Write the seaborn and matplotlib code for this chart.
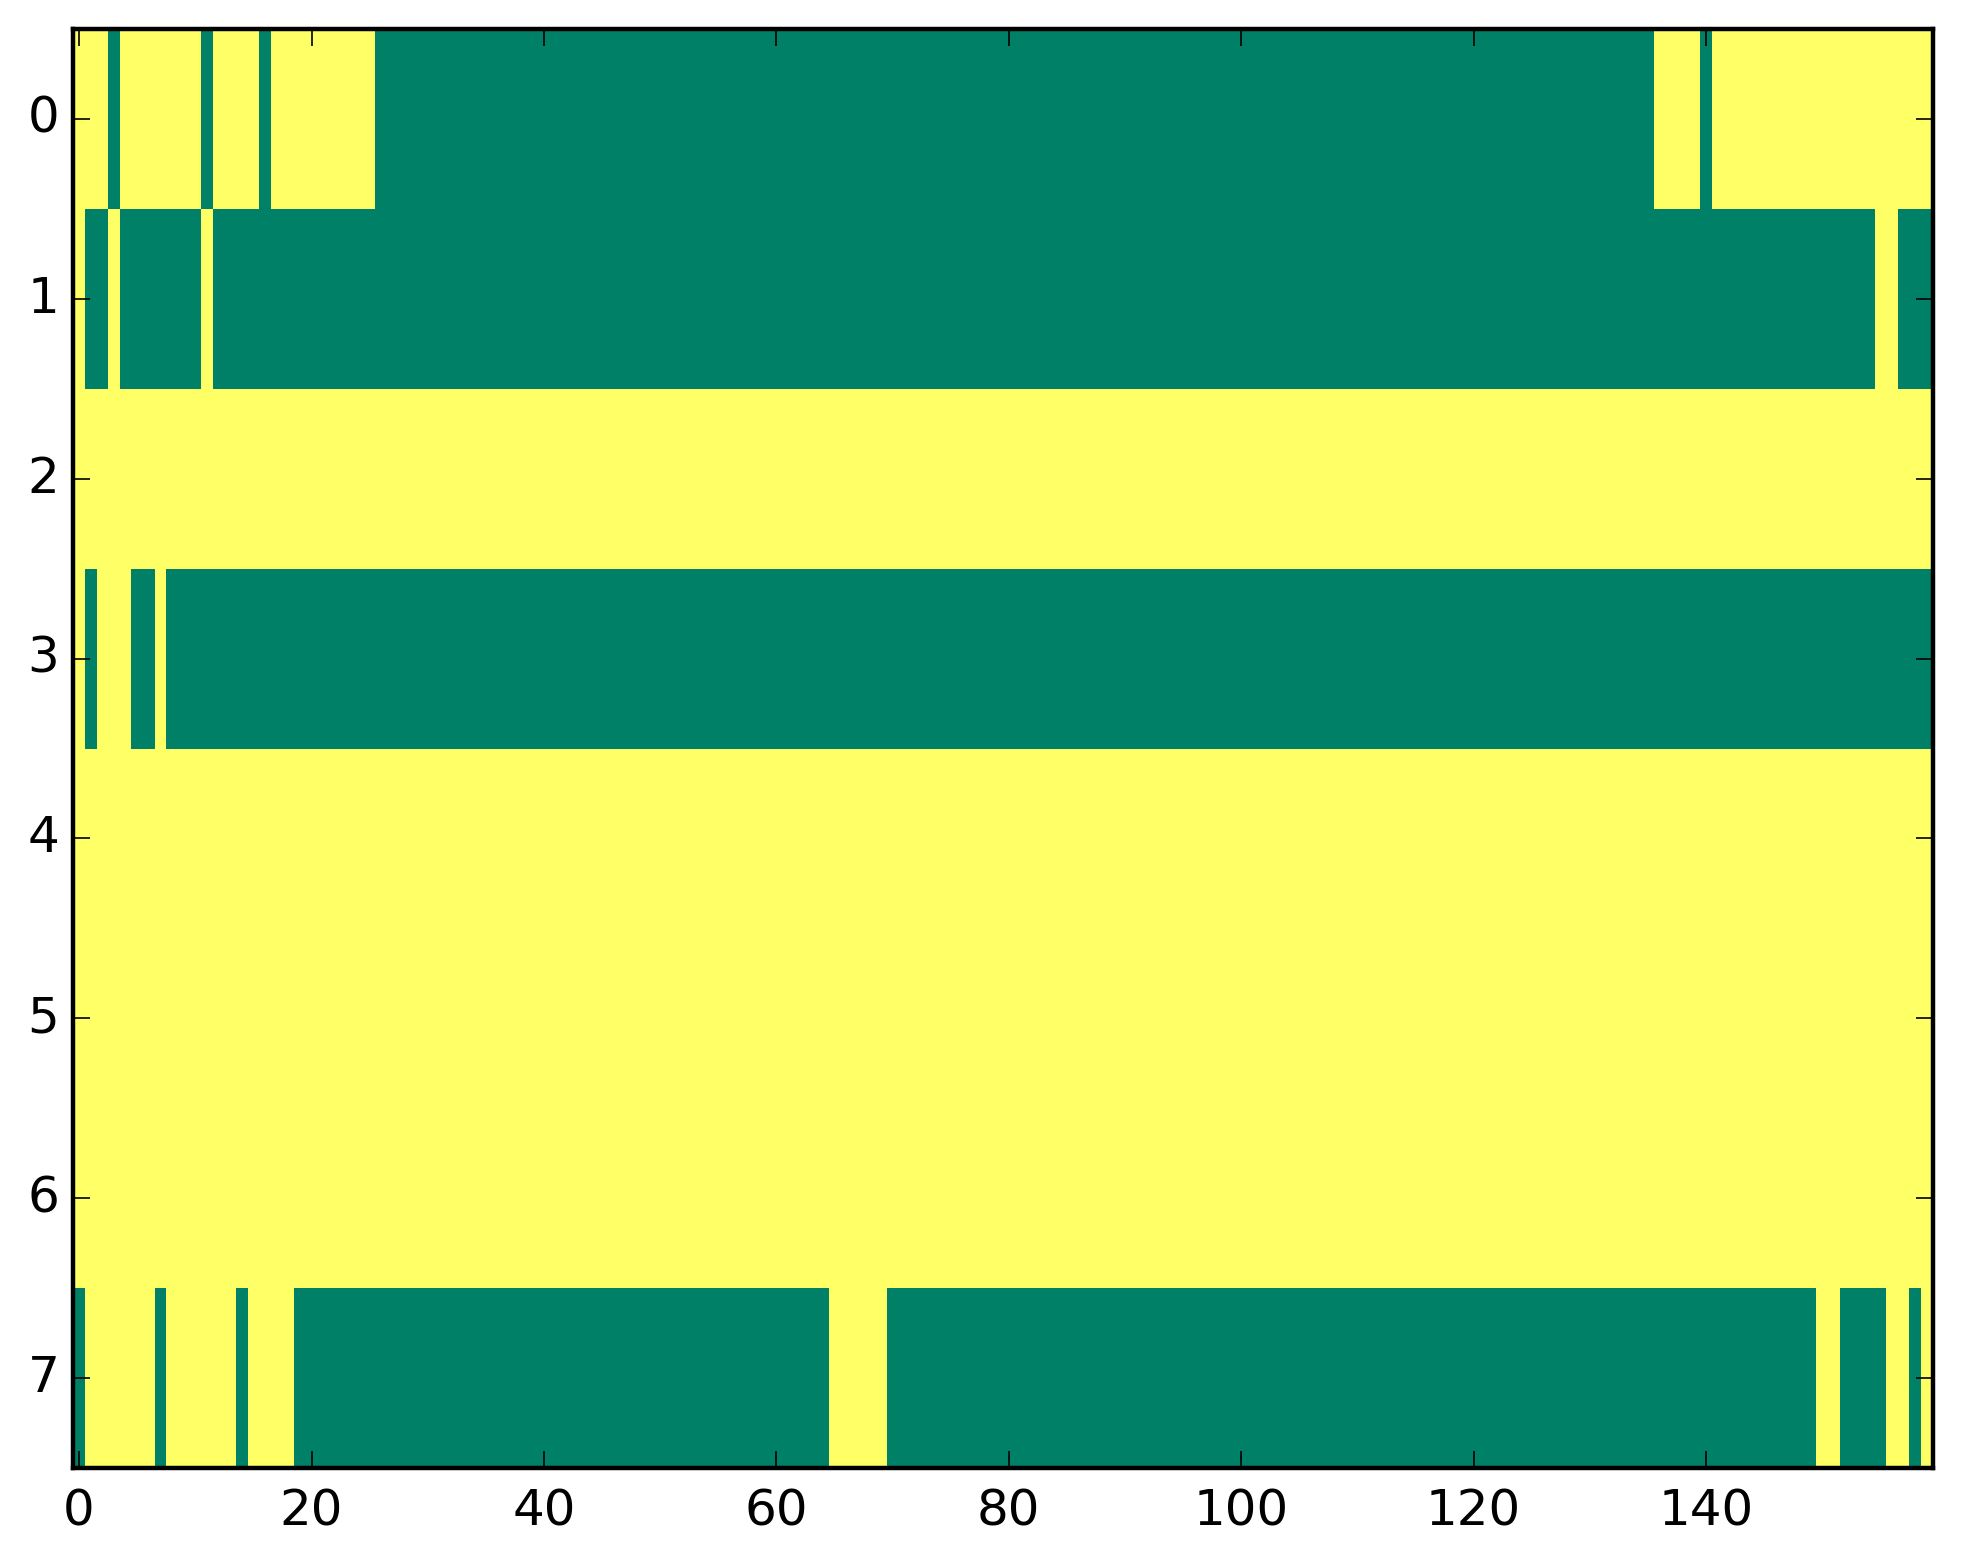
import numpy as np
import pandas as pd
import matplotlib
matplotlib.use("Agg")
import matplotlib.pyplot as plt
import seaborn as sns

# Each row as run-length pairs (value, count); 0 = green, 1 = yellow
row0_runs = [(1, 3), (0, 1), (1, 7), (0, 1), (1, 4), (0, 1), (1, 9), (0, 110), (1, 4), (0, 1), (1, 19)]
row1_runs = [(1, 1), (0, 2), (1, 1), (0, 7), (1, 1), (0, 143), (1, 2), (0, 3)]
row2_runs = [(1, 160)]
row3_runs = [(1, 1), (0, 1), (1, 3), (0, 2), (1, 1), (0, 152)]
row4_runs = [(1, 160)]
row5_runs = [(1, 160)]
row6_runs = [(1, 160)]
row7_runs = [(0, 1), (1, 6), (0, 1), (1, 6), (0, 1), (1, 4), (0, 46), (1, 5), (0, 80), (1, 2), (0, 4), (1, 2), (0, 1), (1, 1)]

x_ticks = [0, 20, 40, 60, 80, 100, 120, 140]
y_ticks = [0, 1, 2, 3, 4, 5, 6, 7]

all_runs = [row0_runs, row1_runs, row2_runs, row3_runs, row4_runs, row5_runs, row6_runs, row7_runs]
rows = [np.concatenate([np.full(n, v) for v, n in r]) for r in all_runs]
df = pd.DataFrame(np.vstack(rows))

sns.set_style("white")
plt.rcParams['font.family'] = ['DejaVu Sans']

dpi = 200
fig = plt.figure(figsize=(1963 / dpi, 1564 / dpi), dpi=dpi)
ax = fig.add_axes([73.3 / 1963, 1 - 1468 / 1564, (1932.7 - 73.3) / 1963, (1468 - 29) / 1564])

sns.heatmap(df, cmap="summer", vmin=0, vmax=1, cbar=False, ax=ax)
ax.set_axisbelow(False)

ax.set_xticks(np.array(x_ticks) + 0.5)
ax.set_xticklabels([str(t) for t in x_ticks], rotation=0)
ax.set_yticks(np.array(y_ticks) + 0.5)
ax.set_yticklabels([str(t) for t in y_ticks], rotation=0, va="center")
ax.set_xlabel("")
ax.set_ylabel("")

for s in ax.spines.values():
    s.set_visible(True)
    s.set_color("black")
    s.set_linewidth(1.6)
    s.set_zorder(5)

ax.tick_params(axis="both", which="major", direction="in", length=6, width=0.6,
               top=True, right=True, bottom=True, left=True,
               labelsize=18, colors="black")
ax.tick_params(axis="y", pad=5)
ax.tick_params(axis="x", pad=7)

fig.savefig("out.png", dpi=dpi, facecolor="white")
